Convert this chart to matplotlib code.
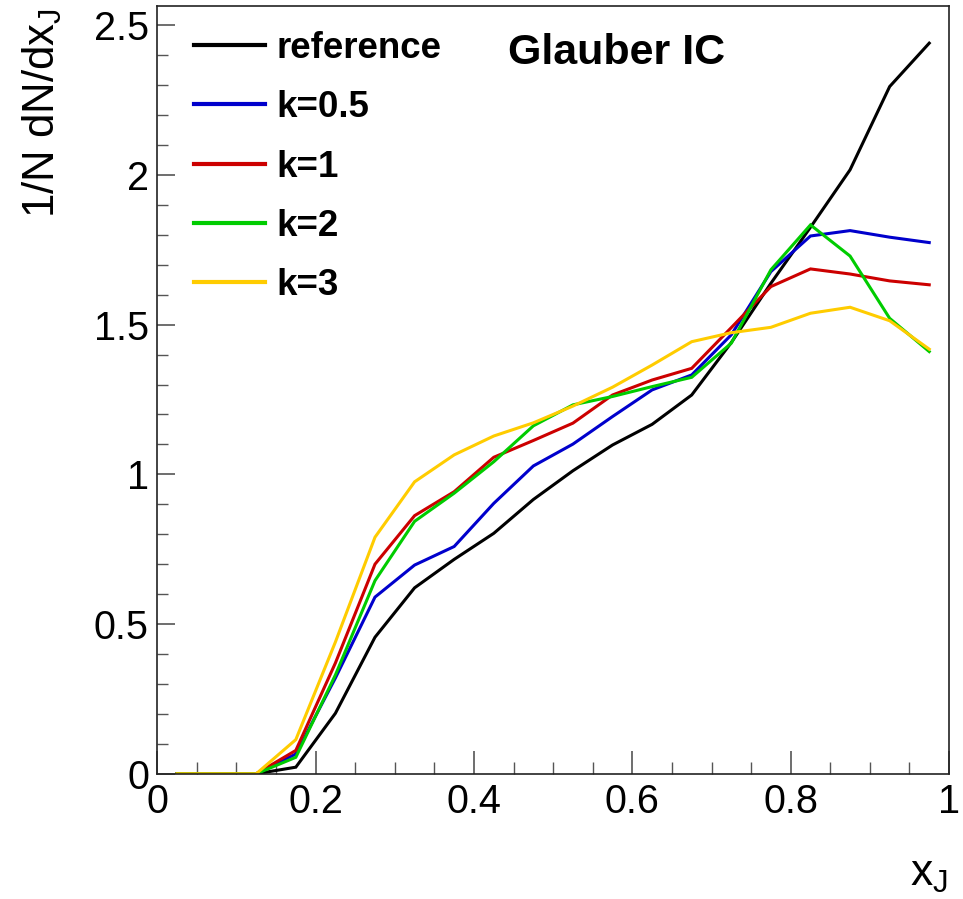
import numpy as np
import matplotlib
matplotlib.use("Agg")
import matplotlib.pyplot as plt
from matplotlib.ticker import MultipleLocator

plt.rcParams['font.family'] = ['Liberation Sans', 'DejaVu Sans']
plt.rcParams['mathtext.fontset'] = 'custom'
plt.rcParams['mathtext.rm'] = 'Liberation Sans'
plt.rcParams['mathtext.it'] = 'Liberation Sans'

# bin centres of x_J
x_centers = [0.025, 0.075, 0.125, 0.175, 0.225, 0.275, 0.325, 0.375, 0.425, 0.475,
             0.525, 0.575, 0.625, 0.675, 0.725, 0.775, 0.825, 0.875, 0.925, 0.975]

reference = [0, 0, 0, 0.022, 0.202, 0.456, 0.621, 0.716, 0.803, 0.916,
             1.012, 1.098, 1.167, 1.265, 1.44, 1.638, 1.825, 2.017, 2.295, 2.44]
k05 = [0, 0, 0, 0.066, 0.32, 0.59, 0.697, 0.759, 0.903, 1.028,
       1.101, 1.193, 1.282, 1.332, 1.466, 1.677, 1.796, 1.814, 1.792, 1.774]
k1 = [0, 0, 0, 0.078, 0.37, 0.70, 0.862, 0.942, 1.057, 1.113,
      1.171, 1.265, 1.315, 1.354, 1.49, 1.627, 1.686, 1.669, 1.646, 1.633]
k2 = [0, 0, 0, 0.055, 0.33, 0.645, 0.843, 0.937, 1.042, 1.162,
      1.232, 1.26, 1.293, 1.324, 1.438, 1.683, 1.833, 1.729, 1.521, 1.41]
k3 = [0, 0, 0, 0.114, 0.44, 0.79, 0.975, 1.065, 1.128, 1.172,
      1.228, 1.291, 1.365, 1.443, 1.473, 1.491, 1.538, 1.558, 1.513, 1.418]

series_labels = ['reference', 'k=0.5', 'k=1', 'k=2', 'k=3']
series_colors = ['#000000', '#0000cc', '#cc0000', '#00cc00', '#ffcc00']
series_values = [reference, k05, k1, k2, k3]

fig = plt.figure(figsize=(9.63, 8.99), dpi=100)
ax = fig.add_axes([0.1633, 0.1393, 0.8222, 0.854])

for vals, col, lab in zip(series_values, series_colors, series_labels):
    ax.plot(x_centers, vals, color=col, lw=2.2, label=lab, solid_joinstyle='miter')

ax.set_xlim(0, 1)
ax.set_ylim(0, 2.564)

ax.xaxis.set_minor_locator(MultipleLocator(0.05))
ax.yaxis.set_minor_locator(MultipleLocator(0.1))
ax.set_xticks([0, 0.2, 0.4, 0.6, 0.8, 1.0])
ax.set_xticklabels(['0', '0.2', '0.4', '0.6', '0.8', '1'])
ax.set_yticks([0, 0.5, 1, 1.5, 2, 2.5])
ax.set_yticklabels(['0', '0.5', '1', '1.5', '2', '2.5'])

tick_col = '#555555'
ax.tick_params(axis='x', which='major', direction='in', length=16.5, width=1.2,
               color=tick_col, labelsize=28.5, pad=7)
ax.tick_params(axis='x', which='minor', direction='in', length=8.5, width=1.0, color=tick_col)
ax.tick_params(axis='y', which='major', direction='in', length=13, width=1.2,
               color=tick_col, labelsize=28.5, pad=6)
ax.tick_params(axis='y', which='minor', direction='in', length=8, width=1.0, color=tick_col)
for sp in ax.spines.values():
    sp.set_linewidth(1.2)
    sp.set_color('#222222')

leg = ax.legend(loc='upper left', bbox_to_anchor=(0.014, 1.001), frameon=False,
                prop={'weight': 'bold', 'size': 26.5}, handlelength=1.93,
                handletextpad=0.3, labelspacing=0.66, borderaxespad=0.3)
for line in leg.get_lines():
    line.set_linewidth(3.0)

ax.text(0.443, 0.9387, 'Glauber IC', transform=ax.transAxes, fontsize=31,
        fontweight='bold', ha='left', va='center')

fig.text(0.0436, 0.991, r'1/N dN/dx$_{\mathrm{J}}$', rotation=90, fontsize=31.5,
         ha='center', va='top')
fig.text(0.9845, 0.005, r'x$_{\mathrm{J}}$', fontsize=32, ha='right', va='bottom')

fig.savefig('out.png', dpi=100)
